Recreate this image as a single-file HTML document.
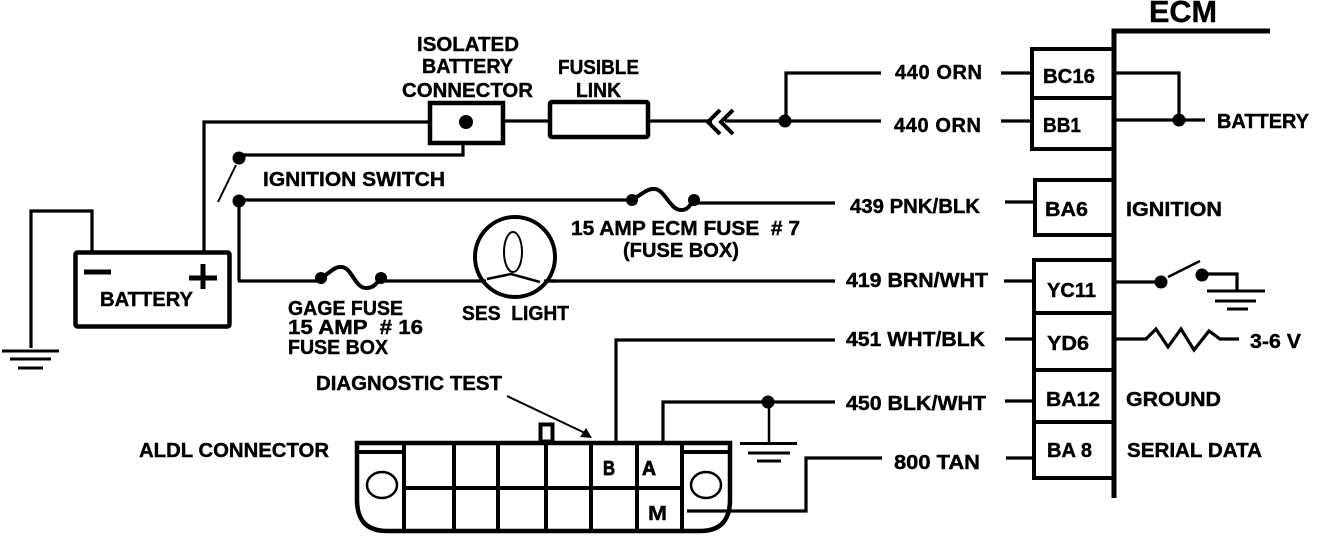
<!DOCTYPE html>
<html><head><meta charset="utf-8"><style>
html,body{margin:0;padding:0;background:#fff}
svg{display:block}
text{font-family:"Liberation Sans",sans-serif;font-weight:bold;font-size:20px;fill:#000;stroke:#000;stroke-width:.4;white-space:pre}
.w{fill:none;stroke:#000;stroke-width:3.2}
.t{fill:none;stroke:#000;stroke-width:4.5}
.n{fill:none;stroke:#000;stroke-width:2}
</style></head><body>
<svg width="1328" height="538" viewBox="0 0 1328 538" xmlns="http://www.w3.org/2000/svg">
<!-- battery -->
<rect class="t" x="75.5" y="252.5" width="154" height="74" rx="2"/>
<path d="M84 272H111M189 278H217M203 264V289" fill="none" stroke="#000" stroke-width="5"/>
<path class="w" d="M92 251V211H31V348"/>
<path d="M2 351H59M10 359H51M18 368H43" fill="none" stroke="#000" stroke-width="3"/>
<path class="w" d="M204 251V122H430"/>
<!-- ignition -->
<path class="w" d="M463 144V155H239"/>
<circle cx="239" cy="158" r="6.5"/>
<path class="n" d="M236 165L218 202" stroke-width="2.5"/>
<circle cx="239" cy="201" r="6.5"/>
<path class="w" d="M239 200H632"/>
<path class="w" d="M239 201V281M238 281H321"/>
<!-- fuse 7 -->
<circle cx="632" cy="200" r="6"/><circle cx="694" cy="200" r="6"/>
<path d="M632 200C642 194 648 188 655 189C665 190 670 210 681 210C689 210 690 204 694 200" fill="none" stroke="#000" stroke-width="4"/>
<path class="w" d="M694 203H835"/>
<!-- fuse 16 -->
<circle cx="321" cy="278" r="6"/><circle cx="381" cy="278" r="6"/>
<path d="M321 278C331 272 335 266 342 267C352 268 355 288 366 288C375 288 377 282 381 278" fill="none" stroke="#000" stroke-width="4"/>
<path class="w" d="M381 281H835"/>
<!-- lamp -->
<circle cx="515" cy="257" r="40" fill="#fff" stroke="#000" stroke-width="4"/>
<ellipse cx="513" cy="252" rx="9" ry="20" fill="none" stroke="#000" stroke-width="2"/>
<path d="M487 279L511 274L540 282" fill="none" stroke="#000" stroke-width="2.5"/>
<path d="M478 281H486M544 281H556" class="w"/>
<!-- iso connector and fusible -->
<rect class="t" x="430" y="103" width="73" height="40" fill="#fff"/>
<circle cx="466" cy="122" r="7"/>
<path class="w" d="M503 121H548"/>
<rect class="t" x="550" y="102" width="98" height="35" rx="2"/>
<path class="w" d="M649 121H712M725 121H881"/>
<path d="M720 110L708 122L720 134M733 110L721 122L733 134" fill="none" stroke="#000" stroke-width="4"/>
<path class="w" d="M786 121V73H881"/>
<circle cx="785" cy="121" r="6.5"/>
<!-- ECM -->
<path d="M1270 31H1114V498" fill="none" stroke="#000" stroke-width="5"/>
<path d="M1114 49H1032V149H1114M1032 98H1114M1114 180H1035V235H1114M1114 260H1034V478H1114M1034 313H1114M1034 370H1114M1034 422H1114" fill="none" stroke="#000" stroke-width="4"/>
<path class="w" d="M1001 73H1031M1001 121H1031M1005 202H1033M1004 281H1033M1005 339H1033M1005 401H1033M1006 458H1033"/>
<path class="w" d="M1116 73H1179V120M1116 120H1205"/>
<circle cx="1179" cy="120" r="6.5"/>
<path class="w" d="M1116 282H1160"/>
<circle cx="1161" cy="282" r="6.5"/>
<path d="M1168 277L1200 261" fill="none" stroke="#000" stroke-width="2.5"/>
<circle cx="1202" cy="275" r="6.5"/>
<path class="w" d="M1208 274H1237V291"/>
<path d="M1207 291H1265M1215 301H1256M1227 309H1248" fill="none" stroke="#000" stroke-width="3"/>
<path class="w" d="M1116 339H1146L1156 329L1168 347L1181 329L1194 350L1209 331L1220 339H1239"/>
<!-- ALDL -->
<path d="M357 443H730V500Q730 531 700 531H387Q357 531 357 500Z" fill="none" stroke="#000" stroke-width="4.5"/>
<path d="M404 443V531M454 443V531M498 443V531M546 443V531M591 443V531M637 443V531M682 443V531M404 488H682M357 452H404M682 452H730" fill="none" stroke="#000" stroke-width="4"/>
<ellipse cx="382" cy="485" rx="15" ry="13" fill="none" stroke="#000" stroke-width="2.5"/>
<ellipse cx="706" cy="485" rx="15" ry="13" fill="none" stroke="#000" stroke-width="2.5"/>
<rect x="540.500" y="424.500" width="12" height="17" fill="none" stroke="#000" stroke-width="4"/>
<path d="M507 396L585 433" stroke="#000" stroke-width="2" fill="none"/>
<path d="M592 438L580 437L586 428Z"/>
<path class="w" d="M616 441V340H835"/>
<path class="w" d="M663 441V402H835"/>
<circle cx="768" cy="402" r="6.5"/>
<path d="M769 402V443" stroke="#000" stroke-width="2.500"/>
<path d="M740 443.500H797M748 453H790M757 461H781" fill="none" stroke="#000" stroke-width="3"/>
<path class="w" d="M687 511H806V458H882"/>
<!-- labels -->
<text x="417" y="51" textLength="102" lengthAdjust="spacingAndGlyphs">ISOLATED</text>
<text x="422" y="73" textLength="91" lengthAdjust="spacingAndGlyphs">BATTERY</text>
<text x="402" y="97" textLength="131" lengthAdjust="spacingAndGlyphs">CONNECTOR</text>
<text x="558" y="74" textLength="81" lengthAdjust="spacingAndGlyphs">FUSIBLE</text>
<text x="576" y="97" textLength="45" lengthAdjust="spacingAndGlyphs">LINK</text>
<text x="895" y="79" textLength="87" lengthAdjust="spacing">440 ORN</text>
<text x="894" y="132" textLength="87" lengthAdjust="spacing">440 ORN</text>
<text x="263" y="186" textLength="182" lengthAdjust="spacingAndGlyphs">IGNITION SWITCH</text>
<text x="850" y="213" textLength="130" lengthAdjust="spacingAndGlyphs">439 PNK/BLK</text>
<text x="571" y="235" textLength="229" lengthAdjust="spacingAndGlyphs">15 AMP ECM FUSE  # 7</text>
<text x="623" y="257" textLength="116" lengthAdjust="spacingAndGlyphs">(FUSE BOX)</text>
<text x="846" y="287" textLength="142" lengthAdjust="spacingAndGlyphs">419 BRN/WHT</text>
<text x="288" y="315" textLength="115" lengthAdjust="spacingAndGlyphs">GAGE FUSE</text>
<text x="288" y="334" textLength="135" lengthAdjust="spacingAndGlyphs">15 AMP  # 16</text>
<text x="288" y="354" textLength="100" lengthAdjust="spacingAndGlyphs">FUSE BOX</text>
<text x="462" y="320" textLength="107" lengthAdjust="spacingAndGlyphs">SES  LIGHT</text>
<text x="846" y="346" textLength="139" lengthAdjust="spacingAndGlyphs">451 WHT/BLK</text>
<text x="316" y="390" textLength="186" lengthAdjust="spacingAndGlyphs">DIAGNOSTIC TEST</text>
<text x="846" y="410" textLength="140" lengthAdjust="spacingAndGlyphs">450 BLK/WHT</text>
<text x="894" y="469" textLength="86" lengthAdjust="spacingAndGlyphs">800 TAN</text>
<text x="139" y="457" textLength="190" lengthAdjust="spacingAndGlyphs">ALDL CONNECTOR</text>
<text x="100" y="306" textLength="93" lengthAdjust="spacingAndGlyphs">BATTERY</text>
<text x="603" y="475" textLength="12" lengthAdjust="spacingAndGlyphs" style="stroke-width:.8">B</text>
<text x="642" y="475" textLength="14" lengthAdjust="spacingAndGlyphs" style="stroke-width:.8">A</text>
<text x="648" y="520" textLength="19" lengthAdjust="spacingAndGlyphs">M</text>
<text x="1149" y="22" style="font-size:31px" textLength="68" lengthAdjust="spacingAndGlyphs">ECM</text>
<text x="1043" y="83" textLength="52" lengthAdjust="spacingAndGlyphs">BC16</text>
<text x="1043" y="132" textLength="38" lengthAdjust="spacingAndGlyphs">BB1</text>
<text x="1217" y="128" textLength="92" lengthAdjust="spacingAndGlyphs">BATTERY</text>
<text x="1045" y="216" textLength="43" lengthAdjust="spacingAndGlyphs">BA6</text>
<text x="1126" y="216" textLength="96" lengthAdjust="spacingAndGlyphs">IGNITION</text>
<text x="1047" y="297" textLength="49" lengthAdjust="spacingAndGlyphs">YC11</text>
<text x="1047" y="350" textLength="42" lengthAdjust="spacingAndGlyphs">YD6</text>
<text x="1250" y="348" textLength="51" lengthAdjust="spacingAndGlyphs">3-6 V</text>
<text x="1046" y="406" textLength="54" lengthAdjust="spacingAndGlyphs">BA12</text>
<text x="1126" y="406" textLength="95" lengthAdjust="spacingAndGlyphs">GROUND</text>
<text x="1047" y="457" textLength="45" lengthAdjust="spacingAndGlyphs">BA 8</text>
<text x="1127" y="457" textLength="135" lengthAdjust="spacingAndGlyphs">SERIAL DATA</text>
</svg>
</body></html>
